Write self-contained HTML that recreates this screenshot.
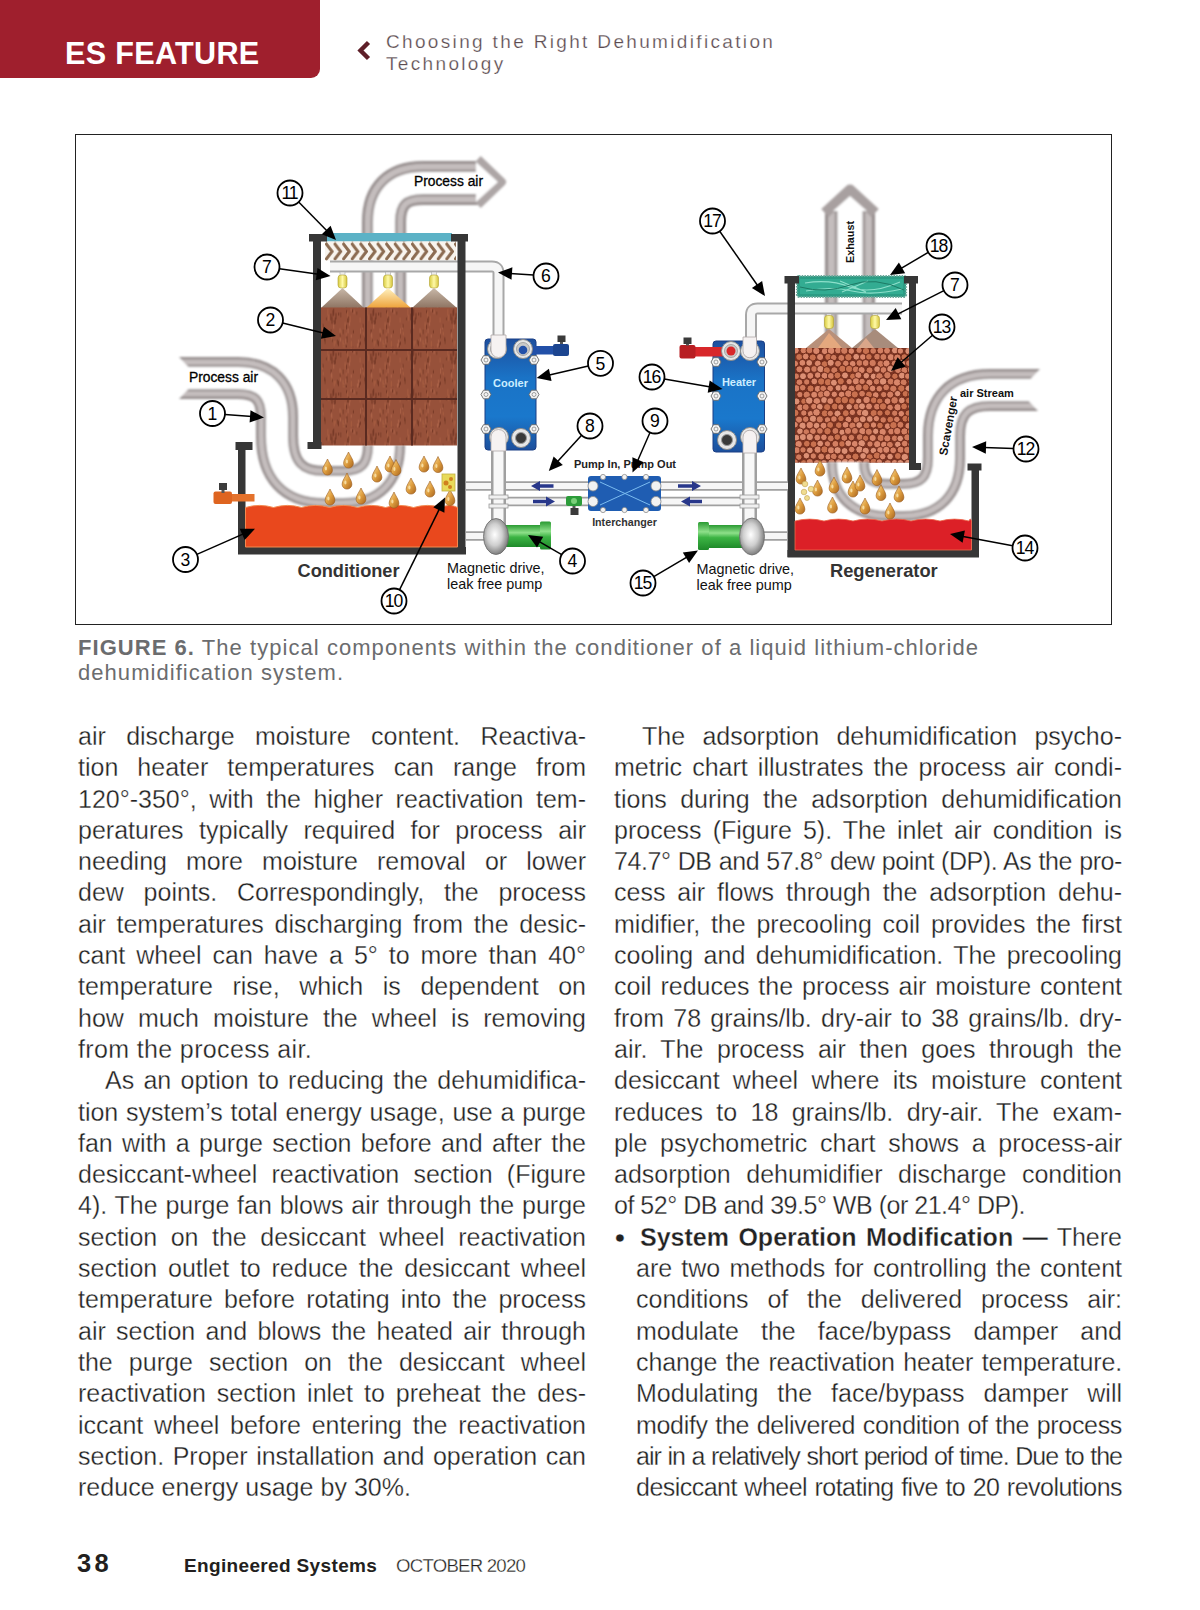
<!DOCTYPE html>
<html><head><meta charset="utf-8">
<style>
html,body{margin:0;padding:0;background:#fff;}
body{width:1200px;height:1610px;position:relative;overflow:hidden;font-family:"Liberation Sans",sans-serif;}
.banner{position:absolute;left:0;top:0;width:320px;height:78px;background:#9f1f2d;border-bottom-right-radius:9px;}
.banner span{position:absolute;left:65px;top:35px;color:#fff;font-weight:bold;font-size:30.6px;letter-spacing:0.3px;line-height:36px;}
.chev{position:absolute;left:356px;top:40px;}
.htitle{position:absolute;left:386px;top:31px;color:#5b4b50;font-size:19px;line-height:22px;letter-spacing:2.34px;-webkit-text-stroke:0.25px #fff;}
.figbox{position:absolute;left:75px;top:134px;width:1035px;height:489px;border:1px solid #222;}
.cap{position:absolute;left:78px;top:634.5px;color:#6b6c6e;font-size:22px;line-height:25.7px;letter-spacing:1.05px;}
.cap b{font-weight:bold;}
.col{position:absolute;top:0;width:508px;}
.ln{position:absolute;left:0;width:508px;height:31px;font-size:25px;line-height:31px;color:#222;-webkit-text-stroke:0.3px #fff;text-align:justify;text-align-last:justify;white-space:pre-wrap;}
.ln.e{text-align-last:left;}
.foot{position:absolute;top:1550px;line-height:26px;color:#231f20;}
</style></head><body>
<div class="banner"><span>ES FEATURE</span></div>
<svg class="chev" width="18" height="22" viewBox="0 0 18 22"><path d="M12.5 2.5 L4.5 10.5 L12.5 18.5" fill="none" stroke="#5e1f28" stroke-width="4.4" stroke-linejoin="miter"/></svg>
<div class="htitle">Choosing the Right Dehumidification<br>Technology</div>
<div class="figbox"></div>
<svg style="position:absolute;left:0;top:0" width="1200" height="640" viewBox="0 0 1200 640" font-family="Liberation Sans, sans-serif">
<defs>
<linearGradient id="gBlue" x1="0" y1="0" x2="0" y2="1">
<stop offset="0" stop-color="#1d4f9e"/><stop offset="0.35" stop-color="#1a73c6"/><stop offset="0.7" stop-color="#1a78cc"/><stop offset="1" stop-color="#1c4f9c"/></linearGradient>
<linearGradient id="gDrop" x1="0" y1="0" x2="1" y2="1">
<stop offset="0" stop-color="#f9dc98"/><stop offset="0.5" stop-color="#e0a040"/><stop offset="1" stop-color="#a8641e"/></linearGradient>
<linearGradient id="gGreen" x1="0" y1="0" x2="0" y2="1">
<stop offset="0" stop-color="#2a9a32"/><stop offset="0.35" stop-color="#8ee08a"/><stop offset="0.55" stop-color="#3cb444"/><stop offset="1" stop-color="#1f8a2a"/></linearGradient>
<radialGradient id="gChrome" cx="0.45" cy="0.45" r="0.6">
<stop offset="0" stop-color="#ffffff"/><stop offset="0.5" stop-color="#cfcfcf"/><stop offset="1" stop-color="#6e6e6e"/></radialGradient>
<linearGradient id="gCone1" x1="0" y1="0" x2="0" y2="1"><stop offset="0" stop-color="#c8b8a8"/><stop offset="1" stop-color="#8e7462"/></linearGradient>
<linearGradient id="gCone2" x1="0" y1="0" x2="0" y2="1"><stop offset="0" stop-color="#fff2c0"/><stop offset="1" stop-color="#eea23a"/></linearGradient>
<linearGradient id="gYel" x1="0" y1="0" x2="1" y2="0"><stop offset="0" stop-color="#d8cc40"/><stop offset="0.5" stop-color="#fff9a8"/><stop offset="1" stop-color="#d4c43a"/></linearGradient>
<pattern id="pHerr" x="325" y="242" width="8.6" height="19" patternUnits="userSpaceOnUse">
<path d="M0.5,1 L7,9.5 L0.5,18" fill="none" stroke="#8c6c52" stroke-width="3"/></pattern>
<pattern id="pWood" x="321" y="307.5" width="40" height="40" patternUnits="userSpaceOnUse"><rect width="40" height="40" fill="#97513a"/><rect x="9.5" y="21.8" width="1.2" height="4.5" fill="#6e3422" opacity="0.7"/><rect x="25.0" y="2.6" width="1.2" height="3.1" fill="#6e3422" opacity="0.7"/><rect x="10.4" y="9.4" width="1.2" height="7.0" fill="#6e3422" opacity="0.7"/><rect x="21.6" y="22.0" width="1.2" height="4.6" fill="#7a3e28" opacity="0.7"/><rect x="9.3" y="6.1" width="1.2" height="6.7" fill="#6e3422" opacity="0.7"/><rect x="29.7" y="26.9" width="1.2" height="3.3" fill="#b0664a" opacity="0.7"/><rect x="12.1" y="1.2" width="1.2" height="6.5" fill="#6e3422" opacity="0.7"/><rect x="23.8" y="36.8" width="1.2" height="4.6" fill="#6e3422" opacity="0.7"/><rect x="15.8" y="32.0" width="1.2" height="4.8" fill="#7a3e28" opacity="0.7"/><rect x="35.2" y="3.9" width="1.2" height="3.5" fill="#7a3e28" opacity="0.7"/><rect x="10.3" y="26.9" width="1.2" height="6.1" fill="#a85e40" opacity="0.7"/><rect x="16.8" y="33.3" width="1.2" height="5.3" fill="#6e3422" opacity="0.7"/><rect x="23.4" y="36.2" width="1.2" height="5.7" fill="#b0664a" opacity="0.7"/><rect x="34.3" y="39.6" width="1.2" height="5.7" fill="#7a3e28" opacity="0.7"/><rect x="27.9" y="13.1" width="1.2" height="5.2" fill="#b0664a" opacity="0.7"/><rect x="28.6" y="8.4" width="1.2" height="6.3" fill="#a85e40" opacity="0.7"/><rect x="11.4" y="2.5" width="1.2" height="6.4" fill="#6e3422" opacity="0.7"/><rect x="3.5" y="32.0" width="1.2" height="4.6" fill="#7a3e28" opacity="0.7"/><rect x="0.8" y="17.1" width="1.2" height="4.7" fill="#b0664a" opacity="0.7"/><rect x="1.8" y="24.6" width="1.2" height="3.2" fill="#a85e40" opacity="0.7"/><rect x="22.0" y="36.9" width="1.2" height="4.1" fill="#7a3e28" opacity="0.7"/><rect x="39.9" y="12.4" width="1.2" height="3.3" fill="#b0664a" opacity="0.7"/><rect x="38.0" y="38.9" width="1.2" height="4.2" fill="#a85e40" opacity="0.7"/><rect x="6.2" y="1.7" width="1.2" height="6.5" fill="#a85e40" opacity="0.7"/><rect x="14.4" y="5.5" width="1.2" height="6.4" fill="#6e3422" opacity="0.7"/><rect x="18.4" y="20.8" width="1.2" height="5.6" fill="#b0664a" opacity="0.7"/><rect x="24.8" y="37.6" width="1.2" height="5.0" fill="#6e3422" opacity="0.7"/><rect x="25.4" y="28.6" width="1.2" height="6.7" fill="#6e3422" opacity="0.7"/><rect x="39.1" y="20.8" width="1.2" height="5.2" fill="#b0664a" opacity="0.7"/><rect x="31.5" y="39.5" width="1.2" height="4.3" fill="#6e3422" opacity="0.7"/><rect x="24.6" y="25.3" width="1.2" height="3.2" fill="#a85e40" opacity="0.7"/><rect x="18.7" y="27.2" width="1.2" height="4.4" fill="#a85e40" opacity="0.7"/><rect x="29.5" y="0.9" width="1.2" height="3.2" fill="#b0664a" opacity="0.7"/><rect x="38.5" y="10.0" width="1.2" height="4.8" fill="#a85e40" opacity="0.7"/><rect x="7.1" y="7.4" width="1.2" height="6.0" fill="#a85e40" opacity="0.7"/><rect x="12.0" y="15.1" width="1.2" height="6.1" fill="#b0664a" opacity="0.7"/><rect x="38.9" y="27.3" width="1.2" height="3.5" fill="#7a3e28" opacity="0.7"/><rect x="26.1" y="10.8" width="1.2" height="4.3" fill="#6e3422" opacity="0.7"/><rect x="26.0" y="3.9" width="1.2" height="5.4" fill="#a85e40" opacity="0.7"/><rect x="27.0" y="9.0" width="1.2" height="6.2" fill="#7a3e28" opacity="0.7"/><rect x="3.2" y="29.7" width="1.2" height="3.9" fill="#6e3422" opacity="0.7"/><rect x="10.8" y="31.5" width="1.2" height="3.1" fill="#7a3e28" opacity="0.7"/><rect x="12.6" y="33.4" width="1.2" height="5.3" fill="#a85e40" opacity="0.7"/><rect x="13.6" y="33.1" width="1.2" height="3.3" fill="#a85e40" opacity="0.7"/><rect x="23.6" y="16.9" width="1.2" height="5.1" fill="#a85e40" opacity="0.7"/><rect x="18.6" y="25.4" width="1.2" height="4.2" fill="#6e3422" opacity="0.7"/><rect x="1.4" y="16.5" width="1.2" height="3.8" fill="#6e3422" opacity="0.7"/><rect x="37.7" y="35.2" width="1.2" height="6.9" fill="#6e3422" opacity="0.7"/><rect x="22.4" y="39.4" width="1.2" height="5.9" fill="#b0664a" opacity="0.7"/><rect x="29.8" y="33.5" width="1.2" height="5.7" fill="#a85e40" opacity="0.7"/><rect x="21.8" y="35.6" width="1.2" height="6.4" fill="#a85e40" opacity="0.7"/><rect x="4.8" y="9.8" width="1.2" height="3.1" fill="#7a3e28" opacity="0.7"/><rect x="35.9" y="36.0" width="1.2" height="5.3" fill="#b0664a" opacity="0.7"/><rect x="19.2" y="4.8" width="1.2" height="5.0" fill="#7a3e28" opacity="0.7"/><rect x="26.5" y="21.0" width="1.2" height="4.7" fill="#b0664a" opacity="0.7"/><rect x="13.7" y="10.1" width="1.2" height="6.4" fill="#6e3422" opacity="0.7"/><rect x="32.5" y="2.5" width="1.2" height="3.9" fill="#b0664a" opacity="0.7"/><rect x="21.4" y="32.7" width="1.2" height="3.7" fill="#a85e40" opacity="0.7"/><rect x="36.9" y="32.2" width="1.2" height="6.3" fill="#b0664a" opacity="0.7"/><rect x="19.5" y="22.8" width="1.2" height="4.6" fill="#a85e40" opacity="0.7"/><rect x="9.9" y="24.7" width="1.2" height="5.1" fill="#b0664a" opacity="0.7"/><rect x="18.9" y="31.1" width="1.2" height="3.0" fill="#b0664a" opacity="0.7"/><rect x="31.0" y="1.8" width="1.2" height="3.2" fill="#6e3422" opacity="0.7"/><rect x="39.0" y="34.2" width="1.2" height="3.3" fill="#6e3422" opacity="0.7"/><rect x="12.6" y="12.6" width="1.2" height="4.4" fill="#6e3422" opacity="0.7"/><rect x="23.5" y="14.4" width="1.2" height="3.8" fill="#a85e40" opacity="0.7"/><rect x="17.1" y="5.1" width="1.2" height="3.0" fill="#6e3422" opacity="0.7"/><rect x="31.8" y="22.7" width="1.2" height="3.2" fill="#6e3422" opacity="0.7"/><rect x="24.2" y="31.3" width="1.2" height="4.5" fill="#b0664a" opacity="0.7"/><rect x="24.9" y="17.3" width="1.2" height="4.5" fill="#6e3422" opacity="0.7"/></pattern>
<pattern id="pBead" x="795" y="349" width="6.2" height="10.6" patternUnits="userSpaceOnUse">
<rect width="6.2" height="10.6" fill="#6a2a1a"/>
<circle cx="3.1" cy="2.65" r="2.5" fill="#cf7a5c"/>
<circle cx="0" cy="7.95" r="2.5" fill="#c87256"/><circle cx="6.2" cy="7.95" r="2.5" fill="#c87256"/>
</pattern>
<filter id="fSoft" filterUnits="userSpaceOnUse" x="0" y="0" width="1200" height="640"><feGaussianBlur stdDeviation="0.9"/></filter>
<g id="drop"><path d="M0,-8 C1.5,-4.2 4.9,-0.5 4.9,3.2 A4.9,4.9 0 0 1 -4.9,3.2 C-4.9,-0.5 -1.5,-4.2 0,-8 Z" fill="url(#gDrop)" stroke="#9a5a1c" stroke-width="0.6"/><ellipse cx="-1.6" cy="1.5" rx="1.1" ry="2" fill="#fff3c8" opacity="0.7"/></g>
<g id="hex"><path d="M-5,0 L-2.5,-4.3 L2.5,-4.3 L5,0 L2.5,4.3 L-2.5,4.3 Z" fill="#f4f4f4" stroke="#6a6a6a" stroke-width="0.9"/><circle r="2" fill="none" stroke="#8a8a8a" stroke-width="0.8"/></g>
<g id="port"><circle r="9.5" fill="#e6e6e6" stroke="#8a8a8a" stroke-width="1"/><circle r="6.5" fill="#c9c9c9" stroke="#9a9a9a" stroke-width="0.8"/></g>
<g id="portd"><circle r="9.5" fill="#e6e6e6" stroke="#8a8a8a" stroke-width="1"/><circle r="5.5" fill="#3a3a3a" stroke="#999" stroke-width="1"/></g>
</defs>

<!-- ============ CONDITIONER ============ -->
<!-- top outlet tube -->
<g fill="none" stroke-linejoin="round" filter="url(#fSoft)">
<path d="M384,310 L384,222 Q384,183 423,183 L482,183" stroke="#958d8d" stroke-width="44.0"/>
<path d="M384,310 L384,222 Q384,183 423,183 L482,183" stroke="#c4bdbd" stroke-width="38.5"/>
<path d="M384,310 L384,222 Q384,183 423,183 L482,183" stroke="#9c9494" stroke-width="26.9"/>
<path d="M384,310 L384,222 Q384,183 423,183 L482,183" stroke="#ffffff" stroke-width="22.0"/>
<path d="M478,159 L502,182 L478,205" fill="none" stroke="#ada6a6" stroke-width="8" stroke-linejoin="round"/>
<path d="M476,162 L498,182 L476,202 Z" fill="#ffffff" stroke="none"/>
</g>
<text x="414" y="186" font-size="13.8" fill="#000" stroke="#000" stroke-width="0.3">Process air</text>

<!-- blue strip + mist eliminator -->
<rect x="326" y="233" width="126" height="8.5" fill="#5cb2c6"/>
<rect x="325" y="241.5" width="131" height="19" fill="#f8f4ee"/>
<rect x="325" y="241.5" width="131" height="19" fill="url(#pHerr)"/>
<!-- spray pipe -->
<g fill="none" stroke-linecap="butt">
<path d="M330,266.5 L492,266.5 Q498.5,266.5 498.5,273 L498.5,346" stroke="#a8a8a8" stroke-width="12"/>
<path d="M330,266.5 L492,266.5 Q498.5,266.5 498.5,273 L498.5,346" stroke="#f6f6f6" stroke-width="8"/>
</g>
<!-- nozzles -->
<g>
<rect x="340" y="272" width="5" height="4" fill="#eee" stroke="#aaa" stroke-width="0.6"/>
<rect x="338" y="275" width="9" height="13" rx="3" fill="url(#gYel)" stroke="#b0a030" stroke-width="0.6"/>
<rect x="385.5" y="272" width="5" height="4" fill="#eee" stroke="#aaa" stroke-width="0.6"/>
<rect x="383.5" y="275" width="9" height="13" rx="3" fill="url(#gYel)" stroke="#b0a030" stroke-width="0.6"/>
<rect x="431.5" y="272" width="5" height="4" fill="#eee" stroke="#aaa" stroke-width="0.6"/>
<rect x="429.5" y="275" width="9" height="13" rx="3" fill="url(#gYel)" stroke="#b0a030" stroke-width="0.6"/>
</g>
<path d="M342.5,288 L321,308 L364,308 Z" fill="url(#gCone1)"/>
<path d="M388,288 L366,308 L411,308 Z" fill="url(#gCone2)"/>
<path d="M434,288 L412,308 L457,308 Z" fill="url(#gCone1)"/>
<!-- inlet U tube -->
<g fill="none" stroke-linejoin="round" filter="url(#fSoft)">
<path d="M178,378 L238,378 Q277,378 277,417 L277,436 Q277,487 324,487 L343,487 Q384,487 384,445" stroke="#958d8d" stroke-width="42.0"/>
<path d="M178,378 L238,378 Q277,378 277,417 L277,436 Q277,487 324,487 L343,487 Q384,487 384,445" stroke="#c4bdbd" stroke-width="37.0"/>
<path d="M178,378 L238,378 Q277,378 277,417 L277,436 Q277,487 324,487 L343,487 Q384,487 384,445" stroke="#9c9494" stroke-width="26.5"/>
<path d="M178,378 L238,378 Q277,378 277,417 L277,436 Q277,487 324,487 L343,487 Q384,487 384,445" stroke="#ffffff" stroke-width="22.0"/>
<path d="M176,354 L199,378 L176,402 Z" fill="#ffffff" stroke="none"/>
</g>
<text x="189" y="381.5" font-size="13.8" fill="#000" stroke="#000" stroke-width="0.3">Process air</text>
<!-- brown block -->
<rect x="321" y="307.5" width="136" height="138" fill="url(#pWood)"/>
<g stroke="#5a2a20" stroke-width="2">
<line x1="366" y1="307.5" x2="366" y2="445.5"/><line x1="412" y1="307.5" x2="412" y2="445.5"/>
<line x1="321" y1="350" x2="457" y2="350"/><line x1="321" y1="399" x2="457" y2="399"/>
</g>
<!-- inner tank walls -->
<g fill="#363636">
<rect x="313" y="234" width="8" height="215"/>
<rect x="307.5" y="442" width="14" height="7"/>
<rect x="309" y="234" width="18" height="7.5"/>
<rect x="457.5" y="234" width="8" height="320"/>
<rect x="451" y="234" width="17" height="7.5"/>
<!-- outer tank -->
<rect x="238" y="443" width="7.5" height="111"/>
<rect x="235.5" y="442" width="17" height="8"/>
<rect x="238" y="547" width="228" height="7.5"/>
</g>
<!-- liquid -->
<path d="M245.5,507.5 Q259.5,503.3 273.5,507.5 Q287.5,503.3 301.5,507.5 Q315.5,503.3 329.5,507.5 Q343.5,503.3 357.5,507.5 Q371.5,503.3 385.5,507.5 Q399.5,503.3 413.5,507.5 Q427.5,503.3 441.5,507.5 Q449.5,503.3 457.5,507.5 L457.5,547 L245.5,547 Z" fill="#e9481d" stroke="#f38a50" stroke-width="1"/>
<!-- droplets -->
<use href="#drop" x="327.5" y="467"/><use href="#drop" x="348.5" y="460"/><use href="#drop" x="347" y="481"/>
<use href="#drop" x="330" y="497"/><use href="#drop" x="361" y="496"/><use href="#drop" x="377" y="474"/>
<use href="#drop" x="390" y="464"/><use href="#drop" x="396" y="467.5"/><use href="#drop" x="394" y="500"/>
<use href="#drop" x="411" y="486"/><use href="#drop" x="424" y="464"/><use href="#drop" x="430" y="489"/>
<use href="#drop" x="438" y="464.5"/><use href="#drop" x="450" y="497.5"/>
<!-- item 10 -->
<rect x="442" y="474" width="13" height="17" fill="#e8da5a" stroke="#c0b040" stroke-width="0.8"/>
<circle cx="446" cy="483" r="2.5" fill="#d0801e"/><circle cx="451" cy="479" r="2" fill="#d0801e"/><circle cx="450" cy="487" r="2" fill="#d0801e"/>
<!-- orange valve -->
<rect x="226" y="494" width="28.5" height="7.5" fill="#e4722c"/>
<rect x="213.5" y="491.5" width="18.5" height="12.5" rx="2" fill="#de6420"/>
<rect x="221.5" y="489" width="3" height="4" fill="#555"/>
<rect x="219" y="483" width="8" height="7" fill="#3c3c3c"/>

<!-- ============ REGENERATOR ============ -->
<!-- exhaust tube -->
<g fill="none" filter="url(#fSoft)">
<path d="M850,345 L850,211" stroke="#958d8d" stroke-width="50.0"/>
<path d="M850,345 L850,211" stroke="#c4bdbd" stroke-width="43.8"/>
<path d="M850,345 L850,211" stroke="#9c9494" stroke-width="30.6"/>
<path d="M850,345 L850,211" stroke="#ffffff" stroke-width="25.0"/>
<path d="M825,213 L850,190 L875,213" fill="none" stroke="#a8a0a0" stroke-width="11" stroke-linejoin="round"/>
<path d="M833,211 L850,196 L867,211 Z" fill="#fff" stroke="none"/>
</g>
<text transform="translate(854,263) rotate(-90)" font-size="10.8" font-weight="bold" fill="#111">Exhaust</text>
<!-- green mesh -->
<rect x="797" y="276" width="109" height="21" rx="2" fill="#2c9c84" stroke="#6aa89a" stroke-width="2.2" stroke-dasharray="1.5 1.2"/>
<rect x="800" y="279" width="103" height="15" fill="#33ac92"/>
<path d="M805,283 Q830,279 850,287 T900,282 M806,291 Q832,286 852,291 T902,289 M840,281 L866,292 M842,292 L868,281" fill="none" stroke="#9ce8d4" stroke-width="1.1" opacity="0.85"/>
<path d="M800,287 Q825,294 850,285 T904,290" fill="none" stroke="#1d7a65" stroke-width="1"/>
<!-- spray pipe 17 -->
<g fill="none">
<path d="M751,346 L751,315 Q751,308.5 757.5,308.5 L902,308.5" stroke="#a8a8a8" stroke-width="12"/>
<path d="M751,346 L751,315 Q751,308.5 757.5,308.5 L902,308.5" stroke="#f6f6f6" stroke-width="8"/>
</g>
<rect x="826.5" y="314" width="5" height="3" fill="#eee" stroke="#aaa" stroke-width="0.6"/>
<rect x="824.5" y="315.5" width="9" height="13" rx="3" fill="url(#gYel)" stroke="#b0a030" stroke-width="0.6"/>
<rect x="872.5" y="314" width="5" height="3" fill="#eee" stroke="#aaa" stroke-width="0.6"/>
<rect x="870.5" y="315.5" width="9" height="13" rx="3" fill="url(#gYel)" stroke="#b0a030" stroke-width="0.6"/>
<path d="M829,329 L806,348 L852,348 Z" fill="#b8907a"/>
<path d="M829,333 L818,348 L842,348 Z" fill="#efae80" opacity="0.8"/>
<path d="M875,329 L852,348 L898,348 Z" fill="#a88c7c"/>
<path d="M866,338 L858,348 L874,348 Z" fill="#f0b090" opacity="0.7"/>
<!-- bead bed -->
<g id="beads"><rect x="795" y="348" width="114" height="114.5" fill="#7a3322"/>
<clipPath id="cBead"><rect x="795" y="348" width="114" height="114.5"/></clipPath>
<g clip-path="url(#cBead)" stroke="#6a2616" stroke-width="0.9">
<circle cx="795.7" cy="350.4" r="3.6" fill="#d9866a"/>
<circle cx="803.6" cy="350.4" r="3.5" fill="#d47f62"/>
<circle cx="809.5" cy="350.3" r="3.5" fill="#cf7a5c"/>
<circle cx="816.3" cy="350.9" r="3.7" fill="#d9866a"/>
<circle cx="824.8" cy="351.2" r="3.5" fill="#d9866a"/>
<circle cx="831.1" cy="350.8" r="3.8" fill="#d9866a"/>
<circle cx="838.1" cy="350.4" r="3.5" fill="#d47f62"/>
<circle cx="844.3" cy="350.7" r="3.7" fill="#cf7a5c"/>
<circle cx="851.3" cy="351.1" r="3.3" fill="#d9866a"/>
<circle cx="859.1" cy="350.3" r="3.2" fill="#cf7a5c"/>
<circle cx="866.0" cy="351.1" r="3.7" fill="#c9714f"/>
<circle cx="873.2" cy="350.9" r="3.4" fill="#cf7a5c"/>
<circle cx="880.4" cy="350.6" r="3.5" fill="#d47f62"/>
<circle cx="887.0" cy="350.7" r="3.5" fill="#d47f62"/>
<circle cx="894.9" cy="350.4" r="3.5" fill="#dc8f74"/>
<circle cx="900.4" cy="351.0" r="3.2" fill="#d9866a"/>
<circle cx="908.5" cy="351.1" r="3.7" fill="#dc8f74"/>
<circle cx="799.2" cy="357.0" r="3.5" fill="#c9714f"/>
<circle cx="805.7" cy="356.5" r="3.4" fill="#d9866a"/>
<circle cx="812.7" cy="357.5" r="3.6" fill="#c9714f"/>
<circle cx="820.1" cy="357.0" r="3.6" fill="#d9866a"/>
<circle cx="828.3" cy="357.0" r="3.6" fill="#c9714f"/>
<circle cx="833.7" cy="357.6" r="3.3" fill="#cf7a5c"/>
<circle cx="841.3" cy="357.9" r="3.5" fill="#cf7a5c"/>
<circle cx="848.4" cy="357.3" r="3.7" fill="#c9714f"/>
<circle cx="856.2" cy="356.8" r="3.4" fill="#dc8f74"/>
<circle cx="862.8" cy="357.0" r="3.3" fill="#d9866a"/>
<circle cx="868.9" cy="356.8" r="3.3" fill="#c9714f"/>
<circle cx="877.1" cy="356.7" r="3.4" fill="#cf7a5c"/>
<circle cx="883.4" cy="357.0" r="3.5" fill="#cf7a5c"/>
<circle cx="890.8" cy="357.2" r="3.6" fill="#d9866a"/>
<circle cx="897.4" cy="357.8" r="3.8" fill="#d47f62"/>
<circle cx="904.3" cy="357.0" r="3.3" fill="#c9714f"/>
<circle cx="910.7" cy="356.5" r="3.3" fill="#cf7a5c"/>
<circle cx="795.3" cy="363.6" r="3.3" fill="#d47f62"/>
<circle cx="802.4" cy="362.8" r="3.4" fill="#d9866a"/>
<circle cx="809.2" cy="362.9" r="3.4" fill="#dc8f74"/>
<circle cx="817.8" cy="363.6" r="3.5" fill="#d9866a"/>
<circle cx="824.6" cy="364.2" r="3.5" fill="#c9714f"/>
<circle cx="830.7" cy="362.8" r="3.6" fill="#dc8f74"/>
<circle cx="838.0" cy="363.7" r="3.5" fill="#cf7a5c"/>
<circle cx="845.8" cy="363.4" r="3.3" fill="#d47f62"/>
<circle cx="852.7" cy="363.8" r="3.4" fill="#d9866a"/>
<circle cx="859.4" cy="363.0" r="3.4" fill="#cf7a5c"/>
<circle cx="865.7" cy="363.0" r="3.5" fill="#d47f62"/>
<circle cx="872.7" cy="363.0" r="3.7" fill="#cf7a5c"/>
<circle cx="880.6" cy="363.9" r="3.6" fill="#cf7a5c"/>
<circle cx="886.5" cy="363.4" r="3.6" fill="#d9866a"/>
<circle cx="894.5" cy="363.4" r="3.3" fill="#d47f62"/>
<circle cx="901.8" cy="363.3" r="3.8" fill="#dc8f74"/>
<circle cx="908.8" cy="363.2" r="3.3" fill="#cf7a5c"/>
<circle cx="799.4" cy="369.3" r="3.5" fill="#d47f62"/>
<circle cx="807.1" cy="369.6" r="3.6" fill="#d9866a"/>
<circle cx="814.1" cy="369.0" r="3.4" fill="#cf7a5c"/>
<circle cx="820.5" cy="369.1" r="3.7" fill="#dc8f74"/>
<circle cx="826.8" cy="370.3" r="3.6" fill="#c9714f"/>
<circle cx="834.3" cy="370.3" r="3.6" fill="#cf7a5c"/>
<circle cx="842.4" cy="368.8" r="3.6" fill="#c9714f"/>
<circle cx="849.1" cy="369.0" r="3.7" fill="#c9714f"/>
<circle cx="855.8" cy="369.4" r="3.5" fill="#cf7a5c"/>
<circle cx="861.6" cy="370.1" r="3.6" fill="#d9866a"/>
<circle cx="869.5" cy="370.3" r="3.5" fill="#cf7a5c"/>
<circle cx="877.1" cy="369.1" r="3.4" fill="#dc8f74"/>
<circle cx="883.5" cy="370.0" r="3.4" fill="#d47f62"/>
<circle cx="890.4" cy="369.0" r="3.7" fill="#dc8f74"/>
<circle cx="898.2" cy="369.9" r="3.7" fill="#d47f62"/>
<circle cx="904.4" cy="370.3" r="3.5" fill="#d47f62"/>
<circle cx="910.9" cy="369.6" r="3.7" fill="#cf7a5c"/>
<circle cx="796.2" cy="376.2" r="3.3" fill="#cf7a5c"/>
<circle cx="803.0" cy="376.2" r="3.5" fill="#dc8f74"/>
<circle cx="810.3" cy="375.8" r="3.5" fill="#d9866a"/>
<circle cx="817.7" cy="375.1" r="3.3" fill="#d9866a"/>
<circle cx="824.5" cy="375.8" r="3.5" fill="#d9866a"/>
<circle cx="830.9" cy="376.0" r="3.5" fill="#d47f62"/>
<circle cx="837.5" cy="375.4" r="3.5" fill="#c9714f"/>
<circle cx="845.0" cy="375.4" r="3.5" fill="#dc8f74"/>
<circle cx="852.8" cy="376.4" r="3.3" fill="#c9714f"/>
<circle cx="858.3" cy="375.2" r="3.5" fill="#d9866a"/>
<circle cx="866.3" cy="375.7" r="3.3" fill="#dc8f74"/>
<circle cx="873.5" cy="376.4" r="3.3" fill="#dc8f74"/>
<circle cx="879.4" cy="376.4" r="3.8" fill="#cf7a5c"/>
<circle cx="887.4" cy="375.2" r="3.7" fill="#cf7a5c"/>
<circle cx="894.9" cy="376.3" r="3.3" fill="#c9714f"/>
<circle cx="901.9" cy="375.6" r="3.5" fill="#dc8f74"/>
<circle cx="907.7" cy="376.2" r="3.2" fill="#d47f62"/>
<circle cx="799.4" cy="382.3" r="3.4" fill="#d47f62"/>
<circle cx="806.7" cy="382.0" r="3.2" fill="#cf7a5c"/>
<circle cx="814.3" cy="381.4" r="3.4" fill="#d9866a"/>
<circle cx="821.2" cy="381.5" r="3.7" fill="#c9714f"/>
<circle cx="828.1" cy="382.3" r="3.8" fill="#c9714f"/>
<circle cx="833.9" cy="382.7" r="3.5" fill="#dc8f74"/>
<circle cx="840.8" cy="381.3" r="3.6" fill="#c9714f"/>
<circle cx="849.2" cy="381.6" r="3.2" fill="#d9866a"/>
<circle cx="856.0" cy="381.3" r="3.7" fill="#d9866a"/>
<circle cx="862.1" cy="381.4" r="3.2" fill="#d47f62"/>
<circle cx="869.4" cy="382.7" r="3.6" fill="#d9866a"/>
<circle cx="876.5" cy="381.6" r="3.3" fill="#cf7a5c"/>
<circle cx="883.1" cy="381.5" r="3.8" fill="#dc8f74"/>
<circle cx="890.6" cy="381.5" r="3.5" fill="#cf7a5c"/>
<circle cx="897.1" cy="382.5" r="3.8" fill="#d9866a"/>
<circle cx="903.6" cy="382.4" r="3.5" fill="#cf7a5c"/>
<circle cx="911.5" cy="381.6" r="3.5" fill="#c9714f"/>
<circle cx="796.3" cy="388.3" r="3.7" fill="#d47f62"/>
<circle cx="802.7" cy="387.7" r="3.3" fill="#cf7a5c"/>
<circle cx="810.6" cy="388.5" r="3.6" fill="#c9714f"/>
<circle cx="817.9" cy="389.0" r="3.7" fill="#d9866a"/>
<circle cx="823.2" cy="388.6" r="3.4" fill="#cf7a5c"/>
<circle cx="830.2" cy="388.5" r="3.4" fill="#d47f62"/>
<circle cx="838.3" cy="387.9" r="3.3" fill="#dc8f74"/>
<circle cx="844.2" cy="387.7" r="3.4" fill="#d9866a"/>
<circle cx="851.6" cy="388.9" r="3.8" fill="#d47f62"/>
<circle cx="858.7" cy="387.5" r="3.7" fill="#cf7a5c"/>
<circle cx="865.7" cy="387.4" r="3.4" fill="#c9714f"/>
<circle cx="872.6" cy="388.4" r="3.3" fill="#d9866a"/>
<circle cx="879.3" cy="388.7" r="3.3" fill="#d47f62"/>
<circle cx="886.2" cy="387.4" r="3.4" fill="#cf7a5c"/>
<circle cx="893.3" cy="388.9" r="3.7" fill="#cf7a5c"/>
<circle cx="901.3" cy="388.5" r="3.7" fill="#c9714f"/>
<circle cx="908.5" cy="388.6" r="3.5" fill="#dc8f74"/>
<circle cx="799.9" cy="394.6" r="3.2" fill="#d47f62"/>
<circle cx="806.7" cy="394.8" r="3.7" fill="#cf7a5c"/>
<circle cx="814.2" cy="394.8" r="3.5" fill="#d9866a"/>
<circle cx="821.1" cy="394.5" r="3.7" fill="#cf7a5c"/>
<circle cx="826.8" cy="393.7" r="3.6" fill="#d9866a"/>
<circle cx="834.3" cy="394.3" r="3.2" fill="#d9866a"/>
<circle cx="841.7" cy="394.7" r="3.5" fill="#d9866a"/>
<circle cx="848.4" cy="393.7" r="3.8" fill="#d47f62"/>
<circle cx="854.8" cy="394.4" r="3.6" fill="#c9714f"/>
<circle cx="862.1" cy="393.7" r="3.4" fill="#cf7a5c"/>
<circle cx="869.0" cy="394.6" r="3.5" fill="#c9714f"/>
<circle cx="875.7" cy="395.1" r="3.4" fill="#d9866a"/>
<circle cx="883.7" cy="394.6" r="3.2" fill="#cf7a5c"/>
<circle cx="890.2" cy="394.6" r="3.6" fill="#d47f62"/>
<circle cx="897.6" cy="393.6" r="3.2" fill="#dc8f74"/>
<circle cx="905.4" cy="393.8" r="3.3" fill="#c9714f"/>
<circle cx="911.1" cy="394.4" r="3.5" fill="#c9714f"/>
<circle cx="796.5" cy="401.4" r="3.5" fill="#dc8f74"/>
<circle cx="803.9" cy="401.3" r="3.2" fill="#c9714f"/>
<circle cx="809.2" cy="400.6" r="3.8" fill="#dc8f74"/>
<circle cx="816.8" cy="401.3" r="3.8" fill="#d9866a"/>
<circle cx="824.1" cy="400.0" r="3.5" fill="#dc8f74"/>
<circle cx="830.3" cy="401.1" r="3.5" fill="#d9866a"/>
<circle cx="838.4" cy="400.2" r="3.7" fill="#c9714f"/>
<circle cx="844.8" cy="400.1" r="3.8" fill="#c9714f"/>
<circle cx="851.8" cy="401.0" r="3.4" fill="#c9714f"/>
<circle cx="858.7" cy="401.1" r="3.2" fill="#dc8f74"/>
<circle cx="866.6" cy="400.0" r="3.8" fill="#d9866a"/>
<circle cx="873.7" cy="400.3" r="3.4" fill="#c9714f"/>
<circle cx="879.8" cy="401.2" r="3.2" fill="#c9714f"/>
<circle cx="887.5" cy="401.2" r="3.4" fill="#d9866a"/>
<circle cx="894.6" cy="400.3" r="3.8" fill="#cf7a5c"/>
<circle cx="901.8" cy="400.5" r="3.4" fill="#dc8f74"/>
<circle cx="908.5" cy="400.5" r="3.2" fill="#c9714f"/>
<circle cx="800.2" cy="407.5" r="3.5" fill="#d9866a"/>
<circle cx="805.7" cy="407.2" r="3.5" fill="#cf7a5c"/>
<circle cx="813.8" cy="406.5" r="3.2" fill="#d47f62"/>
<circle cx="819.8" cy="406.8" r="3.4" fill="#dc8f74"/>
<circle cx="827.1" cy="407.2" r="3.6" fill="#c9714f"/>
<circle cx="834.8" cy="406.5" r="3.5" fill="#c9714f"/>
<circle cx="840.8" cy="407.0" r="3.2" fill="#d47f62"/>
<circle cx="849.2" cy="406.8" r="3.3" fill="#dc8f74"/>
<circle cx="856.4" cy="406.7" r="3.3" fill="#cf7a5c"/>
<circle cx="862.0" cy="406.3" r="3.5" fill="#dc8f74"/>
<circle cx="869.0" cy="406.4" r="3.5" fill="#d9866a"/>
<circle cx="876.9" cy="406.7" r="3.4" fill="#d47f62"/>
<circle cx="883.0" cy="406.4" r="3.7" fill="#c9714f"/>
<circle cx="890.1" cy="407.5" r="3.3" fill="#d47f62"/>
<circle cx="897.6" cy="407.3" r="3.7" fill="#d9866a"/>
<circle cx="904.1" cy="406.4" r="3.4" fill="#c9714f"/>
<circle cx="911.4" cy="406.5" r="3.7" fill="#d9866a"/>
<circle cx="795.3" cy="412.9" r="3.7" fill="#c9714f"/>
<circle cx="803.8" cy="413.0" r="3.2" fill="#d47f62"/>
<circle cx="810.6" cy="413.8" r="3.3" fill="#d9866a"/>
<circle cx="816.5" cy="412.4" r="3.8" fill="#d9866a"/>
<circle cx="824.8" cy="413.4" r="3.6" fill="#c9714f"/>
<circle cx="830.3" cy="413.4" r="3.2" fill="#cf7a5c"/>
<circle cx="837.5" cy="413.7" r="3.6" fill="#dc8f74"/>
<circle cx="845.8" cy="413.2" r="3.5" fill="#c9714f"/>
<circle cx="852.4" cy="412.4" r="3.2" fill="#d47f62"/>
<circle cx="859.8" cy="412.5" r="3.4" fill="#d47f62"/>
<circle cx="865.1" cy="413.1" r="3.8" fill="#dc8f74"/>
<circle cx="873.8" cy="413.2" r="3.7" fill="#c9714f"/>
<circle cx="880.0" cy="413.1" r="3.2" fill="#c9714f"/>
<circle cx="887.4" cy="412.7" r="3.2" fill="#c9714f"/>
<circle cx="894.7" cy="413.2" r="3.2" fill="#cf7a5c"/>
<circle cx="901.3" cy="413.7" r="3.3" fill="#d9866a"/>
<circle cx="908.4" cy="413.3" r="3.4" fill="#c9714f"/>
<circle cx="799.0" cy="419.7" r="3.6" fill="#d47f62"/>
<circle cx="805.7" cy="419.2" r="3.3" fill="#cf7a5c"/>
<circle cx="813.0" cy="418.8" r="3.7" fill="#dc8f74"/>
<circle cx="819.8" cy="419.4" r="3.6" fill="#cf7a5c"/>
<circle cx="827.5" cy="419.9" r="3.2" fill="#d47f62"/>
<circle cx="833.9" cy="419.0" r="3.3" fill="#d47f62"/>
<circle cx="840.9" cy="418.5" r="3.2" fill="#c9714f"/>
<circle cx="848.4" cy="419.5" r="3.4" fill="#d9866a"/>
<circle cx="856.4" cy="419.9" r="3.4" fill="#cf7a5c"/>
<circle cx="862.8" cy="419.2" r="3.5" fill="#dc8f74"/>
<circle cx="869.8" cy="419.0" r="3.4" fill="#dc8f74"/>
<circle cx="876.4" cy="418.6" r="3.2" fill="#d9866a"/>
<circle cx="883.2" cy="419.9" r="3.3" fill="#cf7a5c"/>
<circle cx="890.3" cy="419.6" r="3.4" fill="#c9714f"/>
<circle cx="896.8" cy="419.5" r="3.3" fill="#d47f62"/>
<circle cx="905.3" cy="418.7" r="3.4" fill="#c9714f"/>
<circle cx="910.7" cy="419.1" r="3.7" fill="#c9714f"/>
<circle cx="795.2" cy="424.7" r="3.2" fill="#d9866a"/>
<circle cx="802.6" cy="425.8" r="3.7" fill="#dc8f74"/>
<circle cx="809.8" cy="425.1" r="3.8" fill="#d9866a"/>
<circle cx="816.6" cy="425.7" r="3.4" fill="#dc8f74"/>
<circle cx="823.6" cy="425.8" r="3.6" fill="#d9866a"/>
<circle cx="830.1" cy="425.0" r="3.5" fill="#c9714f"/>
<circle cx="838.8" cy="425.2" r="3.4" fill="#c9714f"/>
<circle cx="845.6" cy="424.8" r="3.5" fill="#d9866a"/>
<circle cx="852.5" cy="425.8" r="3.7" fill="#cf7a5c"/>
<circle cx="859.2" cy="425.1" r="3.4" fill="#dc8f74"/>
<circle cx="866.5" cy="425.6" r="3.5" fill="#c9714f"/>
<circle cx="873.5" cy="425.0" r="3.2" fill="#d9866a"/>
<circle cx="880.0" cy="425.5" r="3.3" fill="#c9714f"/>
<circle cx="887.7" cy="426.2" r="3.4" fill="#d9866a"/>
<circle cx="893.5" cy="425.3" r="3.8" fill="#c9714f"/>
<circle cx="900.4" cy="424.8" r="3.5" fill="#cf7a5c"/>
<circle cx="908.4" cy="426.0" r="3.6" fill="#d9866a"/>
<circle cx="800.0" cy="431.3" r="3.4" fill="#dc8f74"/>
<circle cx="806.3" cy="432.0" r="3.3" fill="#cf7a5c"/>
<circle cx="812.9" cy="431.2" r="3.4" fill="#d47f62"/>
<circle cx="819.9" cy="430.9" r="3.4" fill="#cf7a5c"/>
<circle cx="827.5" cy="431.2" r="3.7" fill="#c9714f"/>
<circle cx="835.4" cy="431.0" r="3.5" fill="#cf7a5c"/>
<circle cx="842.1" cy="432.3" r="3.2" fill="#dc8f74"/>
<circle cx="848.0" cy="430.9" r="3.6" fill="#d47f62"/>
<circle cx="854.9" cy="430.9" r="3.5" fill="#cf7a5c"/>
<circle cx="862.4" cy="431.2" r="3.7" fill="#d9866a"/>
<circle cx="868.8" cy="431.8" r="3.6" fill="#cf7a5c"/>
<circle cx="875.7" cy="431.3" r="3.2" fill="#dc8f74"/>
<circle cx="882.7" cy="432.0" r="3.7" fill="#d9866a"/>
<circle cx="891.1" cy="431.5" r="3.4" fill="#d47f62"/>
<circle cx="897.2" cy="431.1" r="3.7" fill="#d47f62"/>
<circle cx="904.5" cy="431.5" r="3.7" fill="#d47f62"/>
<circle cx="910.9" cy="431.7" r="3.6" fill="#c9714f"/>
<circle cx="796.4" cy="437.7" r="3.4" fill="#dc8f74"/>
<circle cx="802.9" cy="437.1" r="3.6" fill="#dc8f74"/>
<circle cx="809.8" cy="437.0" r="3.7" fill="#dc8f74"/>
<circle cx="817.3" cy="437.6" r="3.4" fill="#d9866a"/>
<circle cx="823.9" cy="437.3" r="3.3" fill="#d9866a"/>
<circle cx="830.8" cy="438.4" r="3.5" fill="#cf7a5c"/>
<circle cx="837.3" cy="437.1" r="3.3" fill="#c9714f"/>
<circle cx="844.3" cy="438.0" r="3.4" fill="#d47f62"/>
<circle cx="851.4" cy="437.6" r="3.3" fill="#cf7a5c"/>
<circle cx="859.8" cy="437.2" r="3.5" fill="#cf7a5c"/>
<circle cx="865.6" cy="438.3" r="3.2" fill="#c9714f"/>
<circle cx="872.7" cy="438.0" r="3.6" fill="#d9866a"/>
<circle cx="880.7" cy="438.0" r="3.7" fill="#cf7a5c"/>
<circle cx="887.3" cy="438.4" r="3.6" fill="#d47f62"/>
<circle cx="894.6" cy="438.3" r="3.3" fill="#cf7a5c"/>
<circle cx="900.2" cy="438.5" r="3.3" fill="#dc8f74"/>
<circle cx="907.3" cy="437.4" r="3.6" fill="#cf7a5c"/>
<circle cx="798.7" cy="444.1" r="3.7" fill="#d9866a"/>
<circle cx="806.8" cy="443.7" r="3.4" fill="#c9714f"/>
<circle cx="813.6" cy="444.2" r="3.4" fill="#c9714f"/>
<circle cx="820.2" cy="443.6" r="3.4" fill="#dc8f74"/>
<circle cx="827.4" cy="443.9" r="3.2" fill="#d47f62"/>
<circle cx="835.4" cy="443.9" r="3.5" fill="#d47f62"/>
<circle cx="842.0" cy="443.9" r="3.3" fill="#c9714f"/>
<circle cx="848.3" cy="443.3" r="3.4" fill="#dc8f74"/>
<circle cx="854.8" cy="443.9" r="3.5" fill="#d9866a"/>
<circle cx="861.7" cy="443.4" r="3.8" fill="#dc8f74"/>
<circle cx="870.0" cy="444.0" r="3.2" fill="#d47f62"/>
<circle cx="877.2" cy="444.2" r="3.7" fill="#d9866a"/>
<circle cx="884.1" cy="444.8" r="3.6" fill="#d9866a"/>
<circle cx="889.9" cy="444.8" r="3.5" fill="#cf7a5c"/>
<circle cx="897.8" cy="444.4" r="3.3" fill="#dc8f74"/>
<circle cx="904.7" cy="443.6" r="3.4" fill="#d47f62"/>
<circle cx="911.1" cy="444.5" r="3.3" fill="#d47f62"/>
<circle cx="796.8" cy="450.2" r="3.6" fill="#d47f62"/>
<circle cx="803.0" cy="449.9" r="3.2" fill="#cf7a5c"/>
<circle cx="809.8" cy="450.4" r="3.4" fill="#dc8f74"/>
<circle cx="817.7" cy="449.7" r="3.7" fill="#d9866a"/>
<circle cx="824.5" cy="449.5" r="3.7" fill="#c9714f"/>
<circle cx="831.1" cy="450.3" r="3.7" fill="#d9866a"/>
<circle cx="837.6" cy="450.3" r="3.7" fill="#dc8f74"/>
<circle cx="844.6" cy="451.0" r="3.5" fill="#dc8f74"/>
<circle cx="851.7" cy="449.5" r="3.3" fill="#d47f62"/>
<circle cx="859.4" cy="449.5" r="3.7" fill="#dc8f74"/>
<circle cx="865.7" cy="450.9" r="3.7" fill="#dc8f74"/>
<circle cx="873.4" cy="450.6" r="3.3" fill="#dc8f74"/>
<circle cx="880.2" cy="450.1" r="3.5" fill="#d9866a"/>
<circle cx="886.3" cy="449.8" r="3.6" fill="#d9866a"/>
<circle cx="893.2" cy="450.3" r="3.4" fill="#d47f62"/>
<circle cx="900.7" cy="449.8" r="3.6" fill="#d47f62"/>
<circle cx="907.3" cy="450.0" r="3.7" fill="#cf7a5c"/>
<circle cx="798.8" cy="457.1" r="3.3" fill="#cf7a5c"/>
<circle cx="806.4" cy="455.7" r="3.3" fill="#dc8f74"/>
<circle cx="813.3" cy="456.0" r="3.2" fill="#d47f62"/>
<circle cx="821.2" cy="456.6" r="3.5" fill="#d47f62"/>
<circle cx="828.3" cy="456.8" r="3.3" fill="#d9866a"/>
<circle cx="833.7" cy="456.5" r="3.4" fill="#cf7a5c"/>
<circle cx="840.9" cy="457.1" r="3.3" fill="#d47f62"/>
<circle cx="848.6" cy="457.1" r="3.3" fill="#cf7a5c"/>
<circle cx="855.5" cy="456.6" r="3.6" fill="#c9714f"/>
<circle cx="863.1" cy="455.9" r="3.4" fill="#dc8f74"/>
<circle cx="869.7" cy="457.2" r="3.6" fill="#c9714f"/>
<circle cx="876.9" cy="455.6" r="3.7" fill="#c9714f"/>
<circle cx="882.7" cy="456.6" r="3.3" fill="#d9866a"/>
<circle cx="890.1" cy="456.6" r="3.3" fill="#dc8f74"/>
<circle cx="897.9" cy="456.0" r="3.5" fill="#c9714f"/>
<circle cx="904.8" cy="457.1" r="3.8" fill="#dc8f74"/>
<circle cx="911.8" cy="457.1" r="3.3" fill="#d47f62"/>
<circle cx="795.1" cy="462.2" r="3.3" fill="#cf7a5c"/>
<circle cx="803.8" cy="463.0" r="3.4" fill="#c9714f"/>
<circle cx="809.7" cy="462.2" r="3.7" fill="#d47f62"/>
<circle cx="816.9" cy="463.1" r="3.6" fill="#d9866a"/>
<circle cx="823.9" cy="463.0" r="3.5" fill="#dc8f74"/>
<circle cx="831.5" cy="462.4" r="3.6" fill="#d47f62"/>
<circle cx="838.7" cy="462.0" r="3.2" fill="#d9866a"/>
<circle cx="845.2" cy="462.1" r="3.8" fill="#d9866a"/>
<circle cx="851.2" cy="462.0" r="3.6" fill="#d9866a"/>
<circle cx="859.4" cy="463.0" r="3.2" fill="#d47f62"/>
<circle cx="866.5" cy="462.1" r="3.8" fill="#d47f62"/>
<circle cx="873.7" cy="461.9" r="3.7" fill="#c9714f"/>
<circle cx="879.3" cy="462.1" r="3.3" fill="#d9866a"/>
<circle cx="887.8" cy="463.3" r="3.7" fill="#d9866a"/>
<circle cx="894.6" cy="462.8" r="3.4" fill="#d9866a"/>
<circle cx="900.3" cy="463.1" r="3.6" fill="#dc8f74"/>
<circle cx="907.7" cy="462.5" r="3.2" fill="#dc8f74"/>
</g></g>
<!-- scavenger tube -->
<g fill="none" stroke-linejoin="round" filter="url(#fSoft)">
<path d="M1041,390 L990,390 Q944,390 944,436 L944,458 Q944,500 903,500 L888,500 Q848,500 848,462" stroke="#958d8d" stroke-width="42.0"/>
<path d="M1041,390 L990,390 Q944,390 944,436 L944,458 Q944,500 903,500 L888,500 Q848,500 848,462" stroke="#c4bdbd" stroke-width="37.0"/>
<path d="M1041,390 L990,390 Q944,390 944,436 L944,458 Q944,500 903,500 L888,500 Q848,500 848,462" stroke="#9c9494" stroke-width="26.5"/>
<path d="M1041,390 L990,390 Q944,390 944,436 L944,458 Q944,500 903,500 L888,500 Q848,500 848,462" stroke="#ffffff" stroke-width="22.0"/>
<path d="M1043,366 L1019,391 L1043,416 Z" fill="#ffffff" stroke="none"/>
</g>
<text x="960" y="396.5" font-size="11" font-weight="bold" fill="#111">air Stream</text>
<text transform="translate(947,456) rotate(-80)" font-size="11.8" font-weight="bold" fill="#111">Scavenger</text>
<!-- regenerator walls -->
<g fill="#363636">
<rect x="787.5" y="276" width="7.5" height="281"/>
<rect x="784.5" y="276" width="14.5" height="7.5"/>
<rect x="909" y="276" width="7" height="194"/>
<rect x="904" y="276" width="14" height="7.5"/>
<rect x="909" y="463" width="12" height="7"/>
<rect x="787.5" y="550" width="191.5" height="7.5"/>
<rect x="971.5" y="464" width="7.5" height="93"/>
<rect x="967.5" y="463.5" width="14" height="7"/>
</g>
<!-- red liquid -->
<path d="M795,521 Q809.5,517.2 824.0,521 Q838.5,517.2 853.0,521 Q867.5,517.2 882.0,521 Q896.5,517.2 911.0,521 Q925.5,517.2 940.0,521 Q954.5,517.2 969.0,521 Q970.2,517.2 971.5,521 L971.5,550 L795,550 Z" fill="#dc2027" stroke="#ee6a4a" stroke-width="0.8"/>
<use href="#drop" x="801" y="476"/><use href="#drop" x="820" y="468"/><use href="#drop" x="817.5" y="488"/>
<use href="#drop" x="800" y="506"/><use href="#drop" x="832.5" y="505"/><use href="#drop" x="834" y="485"/>
<use href="#drop" x="847" y="475"/><use href="#drop" x="853" y="489"/><use href="#drop" x="860" y="483"/>
<use href="#drop" x="865" y="506"/><use href="#drop" x="877" y="477.5"/><use href="#drop" x="881" y="492.5"/>
<use href="#drop" x="890" y="511"/><use href="#drop" x="895" y="477"/><use href="#drop" x="899" y="494"/>
<g fill="#f0dc90" stroke="#c0a050" stroke-width="0.6">
<circle cx="805" cy="484" r="2.8"/><circle cx="811" cy="489" r="2.8"/><circle cx="804" cy="492" r="2.8"/><circle cx="807" cy="498" r="2.5"/></g>

<!-- ============ MIDDLE ============ -->
<!-- horizontal pipes -->
<g fill="none">
<path d="M466,486 L592,486 M657,486 L788,486 M498,501.5 L592,501.5 M657,501.5 L750,501.5 M466,536 L490,536 M760,536 L787,536" stroke="#a0a0a0" stroke-width="9.5"/>
<path d="M466,486 L592,486 M657,486 L788,486 M498,501.5 L592,501.5 M657,501.5 L750,501.5 M466,536 L490,536 M760,536 L787,536" stroke="#f6f6f6" stroke-width="6"/>
<path d="M498.5,446 L498.5,525 M749.5,446 L749.5,525" stroke="#a0a0a0" stroke-width="15"/>
<path d="M498.5,446 L498.5,525 M749.5,446 L749.5,525" stroke="#f8f8f8" stroke-width="10"/>
</g>
<g fill="#f0f0f0" stroke="#999" stroke-width="0.8">
<rect x="489" y="495" width="19" height="4"/><rect x="489" y="504" width="19" height="4"/>
<rect x="740" y="495" width="19" height="4"/><rect x="740" y="504" width="19" height="4"/>
</g>
<!-- cooler -->
<rect x="485" y="339" width="51" height="111" rx="3" fill="url(#gBlue)" stroke="#1b3f85" stroke-width="1"/>
<rect x="520" y="346" width="42" height="8.5" rx="4" fill="#2250a8"/>
<rect x="553" y="344" width="16" height="12" rx="2" fill="#1c4590"/>
<rect x="560" y="340" width="3" height="4" fill="#555"/><rect x="557.5" y="335.5" width="8" height="6.5" fill="#3a3a3a"/>
<use href="#port" x="497" y="349"/><use href="#port" x="523" y="349"/>
<path d="M491,335 L506,335 L506,350 A7.5,7.5 0 0 1 491,350 Z" fill="#f6f2f2" stroke="#b0a8a8" stroke-width="0.8"/>
<circle cx="523" cy="350" r="4.3" fill="#2250a8"/>
<use href="#port" x="499" y="437"/><use href="#portd" x="521" y="438"/>
<path d="M491,451 L506,451 L506,437 A7.5,7.5 0 0 0 491,437 Z" fill="#f6f2f2" stroke="#b0a8a8" stroke-width="0.8"/>
<use href="#hex" x="486" y="360"/><use href="#hex" x="534" y="360"/>
<use href="#hex" x="486" y="394.5"/><use href="#hex" x="534" y="394.5"/>
<use href="#hex" x="486" y="429"/><use href="#hex" x="534" y="429"/>
<text x="510.5" y="386.5" font-size="11" font-weight="bold" fill="#cdeeff" text-anchor="middle">Cooler</text>
<!-- heater -->
<rect x="713" y="341" width="51.5" height="111" rx="3" fill="url(#gBlue)" stroke="#1b3f85" stroke-width="1"/>
<rect x="690" y="347" width="42" height="9.5" fill="#d8272a"/>
<rect x="679.5" y="345" width="16" height="13.5" rx="2" fill="#b81e22"/>
<rect x="686" y="341.5" width="3" height="4" fill="#555"/><rect x="683.5" y="337.5" width="8" height="6.5" fill="#3a3a3a"/>
<use href="#port" x="731" y="351"/><use href="#port" x="750" y="351"/>
<circle cx="731" cy="351" r="4.5" fill="#d8272a"/>
<path d="M743,337 L756.5,337 L756.5,351 A6.75,6.75 0 0 1 743,351 Z" fill="#f6f2f2" stroke="#b0a8a8" stroke-width="0.8"/>
<use href="#portd" x="727" y="440"/><use href="#port" x="750" y="437"/>
<path d="M743,453 L756.5,453 L756.5,437 A6.75,6.75 0 0 0 743,437 Z" fill="#f6f2f2" stroke="#b0a8a8" stroke-width="0.8"/>
<use href="#hex" x="716" y="362"/><use href="#hex" x="762" y="362"/>
<use href="#hex" x="716" y="396"/><use href="#hex" x="762" y="396"/>
<use href="#hex" x="716" y="429"/><use href="#hex" x="762" y="429"/>
<text x="739" y="386" font-size="11" font-weight="bold" fill="#cdeeff" text-anchor="middle">Heater</text>
<!-- interchanger -->
<rect x="588" y="476" width="73" height="35" rx="3" fill="#1f5db2"/>
<path d="M600,505 L650,482 M600,482 L650,505" stroke="#7bbcf0" stroke-width="1"/>
<g fill="#f2f2f2" stroke="#8a8a8a" stroke-width="0.8">
<circle cx="593" cy="486" r="5"/><circle cx="593" cy="501.5" r="5"/><circle cx="656" cy="486" r="5"/><circle cx="656" cy="501.5" r="5"/>
<circle cx="603" cy="477" r="2.6"/><circle cx="624.5" cy="477" r="2.6"/><circle cx="646" cy="477" r="2.6"/>
<circle cx="603" cy="510" r="2.6"/><circle cx="624.5" cy="510" r="2.6"/><circle cx="646" cy="510" r="2.6"/>
</g>
<text x="625" y="467.5" font-size="11" font-weight="bold" fill="#222" text-anchor="middle">Pump In, Pump Out</text>
<text x="624.5" y="525.5" font-size="10.7" font-weight="bold" fill="#333" text-anchor="middle">Interchanger</text>
<!-- navy arrows -->
<g fill="#28378a">
<path d="M531,486 L540,481 L540,484.2 L553.5,484.2 L553.5,487.8 L540,487.8 L540,491 Z"/>
<path d="M555,501.5 L546,496.5 L546,499.7 L533,499.7 L533,503.3 L546,503.3 L546,506.5 Z"/>
<path d="M701,486 L692,481 L692,484.2 L678,484.2 L678,487.8 L692,487.8 L692,491 Z"/>
<path d="M681,501.5 L690,496.5 L690,499.7 L702,499.7 L702,503.3 L690,503.3 L690,506.5 Z"/>
</g>
<!-- green valve -->
<rect x="566" y="496" width="16" height="10" rx="2" fill="#2c9c3a"/>
<circle cx="574" cy="501" r="3" fill="#7ad07a"/>
<rect x="572.5" y="506" width="3" height="3" fill="#555"/><rect x="570.5" y="508" width="8" height="7" fill="#3a3a3a"/>
<!-- pumps -->
<rect x="505" y="525" width="37" height="22" fill="url(#gGreen)"/>
<rect x="540" y="521.5" width="11" height="28" rx="1.5" fill="url(#gGreen)"/>
<ellipse cx="496" cy="536.5" rx="12.5" ry="18" fill="url(#gChrome)" stroke="#6a6a6a" stroke-width="0.8"/>
<rect x="707" y="525" width="36" height="23" fill="url(#gGreen)"/>
<rect x="698" y="522" width="11" height="28" rx="1.5" fill="url(#gGreen)"/>
<ellipse cx="752" cy="536.5" rx="12.5" ry="18.5" fill="url(#gChrome)" stroke="#6a6a6a" stroke-width="0.8"/>
<text x="447" y="572.7" font-size="14.4" fill="#111">Magnetic drive,</text>
<text x="447" y="588.5" font-size="14.4" fill="#111">leak free pump</text>
<text x="696.5" y="574" font-size="14.4" fill="#111">Magnetic drive,</text>
<text x="696.5" y="590" font-size="14.4" fill="#111">leak free pump</text>
<text x="297.5" y="577" font-size="18.2" font-weight="bold" fill="#333">Conditioner</text>
<text x="830" y="576.5" font-size="18.3" font-weight="bold" fill="#333">Regenerator</text>

<!--CALLOUTS-->
<g stroke="#000" stroke-width="1.5" fill="none">
<line x1="298.7" y1="201.9" x2="327.6" y2="231.4"/>
<line x1="279.4" y1="268.8" x2="318.6" y2="274.3"/>
<line x1="282.6" y1="323.0" x2="324.3" y2="333.2"/>
<line x1="225.0" y1="414.5" x2="252.0" y2="416.6"/>
<line x1="533.5" y1="275.1" x2="510.0" y2="273.4"/>
<line x1="588.3" y1="366.1" x2="548.3" y2="375.3"/>
<line x1="664.3" y1="379.1" x2="710.7" y2="387.0"/>
<line x1="581.6" y1="435.2" x2="556.9" y2="462.2"/>
<line x1="650.0" y1="432.5" x2="637.3" y2="461.5"/>
<line x1="561.7" y1="554.7" x2="538.4" y2="541.1"/>
<line x1="653.8" y1="576.7" x2="687.7" y2="556.7"/>
<line x1="196.9" y1="554.4" x2="244.0" y2="533.6"/>
<line x1="399.5" y1="589.8" x2="439.7" y2="508.3"/>
<line x1="719.7" y1="231.2" x2="758.1" y2="286.2"/>
<line x1="928.2" y1="252.4" x2="900.3" y2="268.9"/>
<line x1="943.9" y1="290.7" x2="896.7" y2="314.6"/>
<line x1="932.5" y1="335.2" x2="900.1" y2="363.2"/>
<line x1="1013.5" y1="448.5" x2="984.0" y2="447.4"/>
<line x1="1012.7" y1="545.7" x2="961.8" y2="536.2"/>
</g>
<g fill="#000">
<path d="M336.0,240.0 L321.8,234.3 L330.6,225.7 Z"/>
<path d="M330.5,276.0 L315.8,280.2 L317.5,267.9 Z"/>
<path d="M336.0,336.0 L320.9,338.7 L323.9,326.7 Z"/>
<path d="M264.0,417.5 L249.6,422.6 L250.5,410.2 Z"/>
<path d="M498.0,272.5 L512.4,267.3 L511.5,279.7 Z"/>
<path d="M536.6,378.0 L548.9,368.8 L551.6,380.9 Z"/>
<path d="M722.5,389.0 L707.7,392.8 L709.7,380.5 Z"/>
<path d="M548.8,471.0 L553.6,456.5 L562.8,464.9 Z"/>
<path d="M632.5,472.5 L632.4,457.2 L643.8,462.2 Z"/>
<path d="M528.0,535.0 L543.2,536.7 L537.0,547.4 Z"/>
<path d="M698.0,550.6 L689.1,563.0 L682.8,552.4 Z"/>
<path d="M255.0,528.8 L244.7,540.1 L239.7,528.8 Z"/>
<path d="M445.0,497.5 L444.4,512.8 L433.3,507.3 Z"/>
<path d="M765.0,296.0 L751.9,288.1 L762.1,281.0 Z"/>
<path d="M890.0,275.0 L898.9,262.5 L905.2,273.2 Z"/>
<path d="M886.0,320.0 L895.7,308.1 L901.3,319.2 Z"/>
<path d="M891.0,371.0 L897.6,357.2 L905.7,366.5 Z"/>
<path d="M972.0,447.0 L986.2,441.3 L985.8,453.7 Z"/>
<path d="M950.0,534.0 L964.9,530.5 L962.6,542.7 Z"/>
</g>
<g fill="#fff" stroke="#000" stroke-width="1.8">
<circle cx="290" cy="193" r="12.5"/>
<circle cx="267" cy="267" r="12.5"/>
<circle cx="270.5" cy="320" r="12.5"/>
<circle cx="212.5" cy="413.5" r="12.5"/>
<circle cx="546" cy="276" r="12.5"/>
<circle cx="600.5" cy="363.3" r="12.5"/>
<circle cx="652" cy="377" r="12.5"/>
<circle cx="590" cy="426" r="12.5"/>
<circle cx="655" cy="421" r="12.5"/>
<circle cx="572.5" cy="561" r="12.5"/>
<circle cx="643" cy="583" r="12.5"/>
<circle cx="185.5" cy="559.5" r="12.5"/>
<circle cx="394" cy="601" r="12.5"/>
<circle cx="712.5" cy="221" r="12.5"/>
<circle cx="939" cy="246" r="12.5"/>
<circle cx="955" cy="285" r="12.5"/>
<circle cx="942" cy="327" r="12.5"/>
<circle cx="1026" cy="449" r="12.5"/>
<circle cx="1025" cy="548" r="12.5"/>
</g>
<g font-size="17.6" fill="#000" text-anchor="middle">
<text x="289.4" y="199.3" letter-spacing="-1.2">11</text>
<text x="267.0" y="273.3">7</text>
<text x="270.5" y="326.3">2</text>
<text x="212.5" y="419.8">1</text>
<text x="546.0" y="282.3">6</text>
<text x="600.5" y="369.6">5</text>
<text x="651.4" y="383.3" letter-spacing="-1.2">16</text>
<text x="590.0" y="432.3">8</text>
<text x="655.0" y="427.3">9</text>
<text x="572.5" y="567.3">4</text>
<text x="642.4" y="589.3" letter-spacing="-1.2">15</text>
<text x="185.5" y="565.8">3</text>
<text x="393.4" y="607.3" letter-spacing="-1.2">10</text>
<text x="711.9" y="227.3" letter-spacing="-1.2">17</text>
<text x="938.4" y="252.3" letter-spacing="-1.2">18</text>
<text x="955.0" y="291.3">7</text>
<text x="941.4" y="333.3" letter-spacing="-1.2">13</text>
<text x="1025.4" y="455.3" letter-spacing="-1.2">12</text>
<text x="1024.4" y="554.3" letter-spacing="-1.2">14</text>
</g>
<!--/CALLOUTS-->
</svg>

<div class="cap"><b>FIGURE 6.</b> The typical components within the conditioner of a liquid lithium-chloride<br>dehumidification system.</div>
<div id="body">
<div class="ln" style="left:78px;top:720.95px;width:508px;">air discharge moisture content. Reactiva-</div>
<div class="ln" style="left:78px;top:752.25px;width:508px;">tion heater temperatures can range from</div>
<div class="ln" style="left:78px;top:783.55px;width:508px;">120°-350°, with the higher reactivation tem-</div>
<div class="ln" style="left:78px;top:814.85px;width:508px;">peratures typically required for process air</div>
<div class="ln" style="left:78px;top:846.15px;width:508px;">needing more moisture removal or lower</div>
<div class="ln" style="left:78px;top:877.45px;width:508px;">dew points. Correspondingly, the process</div>
<div class="ln" style="left:78px;top:908.75px;width:508px;">air temperatures discharging from the desic-</div>
<div class="ln" style="left:78px;top:940.05px;width:508px;">cant wheel can have a 5° to more than 40°</div>
<div class="ln" style="left:78px;top:971.35px;width:508px;">temperature rise, which is dependent on</div>
<div class="ln" style="left:78px;top:1002.65px;width:508px;">how much moisture the wheel is removing</div>
<div class="ln e" style="left:78px;top:1033.95px;width:508px;letter-spacing:0.358px;">from the process air.</div>
<div class="ln" style="left:105px;top:1065.25px;width:481px;">As an option to reducing the dehumidifica-</div>
<div class="ln" style="left:78px;top:1096.55px;width:508px;letter-spacing:-0.014px;">tion system’s total energy usage, use a purge</div>
<div class="ln" style="left:78px;top:1127.85px;width:508px;">fan with a purge section before and after the</div>
<div class="ln" style="left:78px;top:1159.15px;width:508px;">desiccant-wheel reactivation section (Figure</div>
<div class="ln" style="left:78px;top:1190.45px;width:508px;">4). The purge fan blows air through the purge</div>
<div class="ln" style="left:78px;top:1221.75px;width:508px;">section on the desiccant wheel reactivation</div>
<div class="ln" style="left:78px;top:1253.05px;width:508px;">section outlet to reduce the desiccant wheel</div>
<div class="ln" style="left:78px;top:1284.35px;width:508px;">temperature before rotating into the process</div>
<div class="ln" style="left:78px;top:1315.65px;width:508px;">air section and blows the heated air through</div>
<div class="ln" style="left:78px;top:1346.95px;width:508px;">the purge section on the desiccant wheel</div>
<div class="ln" style="left:78px;top:1378.25px;width:508px;">reactivation section inlet to preheat the des-</div>
<div class="ln" style="left:78px;top:1409.55px;width:508px;">iccant wheel before entering the reactivation</div>
<div class="ln" style="left:78px;top:1440.85px;width:508px;">section. Proper installation and operation can</div>
<div class="ln e" style="left:78px;top:1472.15px;width:508px;letter-spacing:0.031px;">reduce energy usage by 30%.</div>
<div class="ln" style="left:642px;top:720.95px;width:480px;">The adsorption dehumidification psycho-</div>
<div class="ln" style="left:614px;top:752.25px;width:508px;">metric chart illustrates the process air condi-</div>
<div class="ln" style="left:614px;top:783.55px;width:508px;">tions during the adsorption dehumidification</div>
<div class="ln" style="left:614px;top:814.85px;width:508px;">process (Figure 5). The inlet air condition is</div>
<div class="ln" style="left:614px;top:846.15px;width:508px;letter-spacing:-0.428px;">74.7° DB and 57.8° dew point (DP). As the pro-</div>
<div class="ln" style="left:614px;top:877.45px;width:508px;">cess air flows through the adsorption dehu-</div>
<div class="ln" style="left:614px;top:908.75px;width:508px;">midifier, the precooling coil provides the first</div>
<div class="ln" style="left:614px;top:940.05px;width:508px;">cooling and dehumidification. The precooling</div>
<div class="ln" style="left:614px;top:971.35px;width:508px;">coil reduces the process air moisture content</div>
<div class="ln" style="left:614px;top:1002.65px;width:508px;">from 78 grains/lb. dry-air to 38 grains/lb. dry-</div>
<div class="ln" style="left:614px;top:1033.95px;width:508px;">air. The process air then goes through the</div>
<div class="ln" style="left:614px;top:1065.25px;width:508px;">desiccant wheel where its moisture content</div>
<div class="ln" style="left:614px;top:1096.55px;width:508px;">reduces to 18 grains/lb. dry-air. The exam-</div>
<div class="ln" style="left:614px;top:1127.85px;width:508px;">ple psychometric chart shows a process-air</div>
<div class="ln" style="left:614px;top:1159.15px;width:508px;">adsorption dehumidifier discharge condition</div>
<div class="ln e" style="left:614px;top:1190.45px;width:508px;letter-spacing:-0.481px;">of 52° DB and 39.5° WB (or 21.4° DP).</div>
<div class="ln" style="left:614px;top:1221.75px;text-align-last:justify"><span style="position:absolute;left:1px;top:0;font-size:28px;font-weight:bold">&#8226;</span><span style="display:block;margin-left:26px"><b style="letter-spacing:0px">System Operation Modification —</b> There</span></div>
<div class="ln" style="left:636px;top:1253.05px;width:486px;">are two methods for controlling the content</div>
<div class="ln" style="left:636px;top:1284.35px;width:486px;">conditions of the delivered process air:</div>
<div class="ln" style="left:636px;top:1315.65px;width:486px;">modulate the face/bypass damper and</div>
<div class="ln" style="left:636px;top:1346.95px;width:486px;letter-spacing:-0.117px;">change the reactivation heater temperature.</div>
<div class="ln" style="left:636px;top:1378.25px;width:486px;">Modulating the face/bypass damper will</div>
<div class="ln" style="left:636px;top:1409.55px;width:486px;letter-spacing:-0.327px;">modify the delivered condition of the process</div>
<div class="ln" style="left:636px;top:1440.85px;width:486px;letter-spacing:-0.977px;">air in a relatively short period of time. Due to the</div>
<div class="ln" style="left:636px;top:1472.15px;width:486px;letter-spacing:-0.521px;">desiccant wheel rotating five to 20 revolutions</div>
</div><!--/body-->
<div class="foot" style="left:77px;font-weight:bold;font-size:25.5px;letter-spacing:3.2px;">38</div>
<div class="foot" style="left:184px;font-weight:bold;font-size:19px;top:1553px;letter-spacing:0.35px;">Engineered Systems</div>
<div class="foot" style="left:396px;font-size:18.6px;top:1553px;letter-spacing:-0.75px;-webkit-text-stroke:0.3px #fff;">OCTOBER 2020</div>
</body></html>
